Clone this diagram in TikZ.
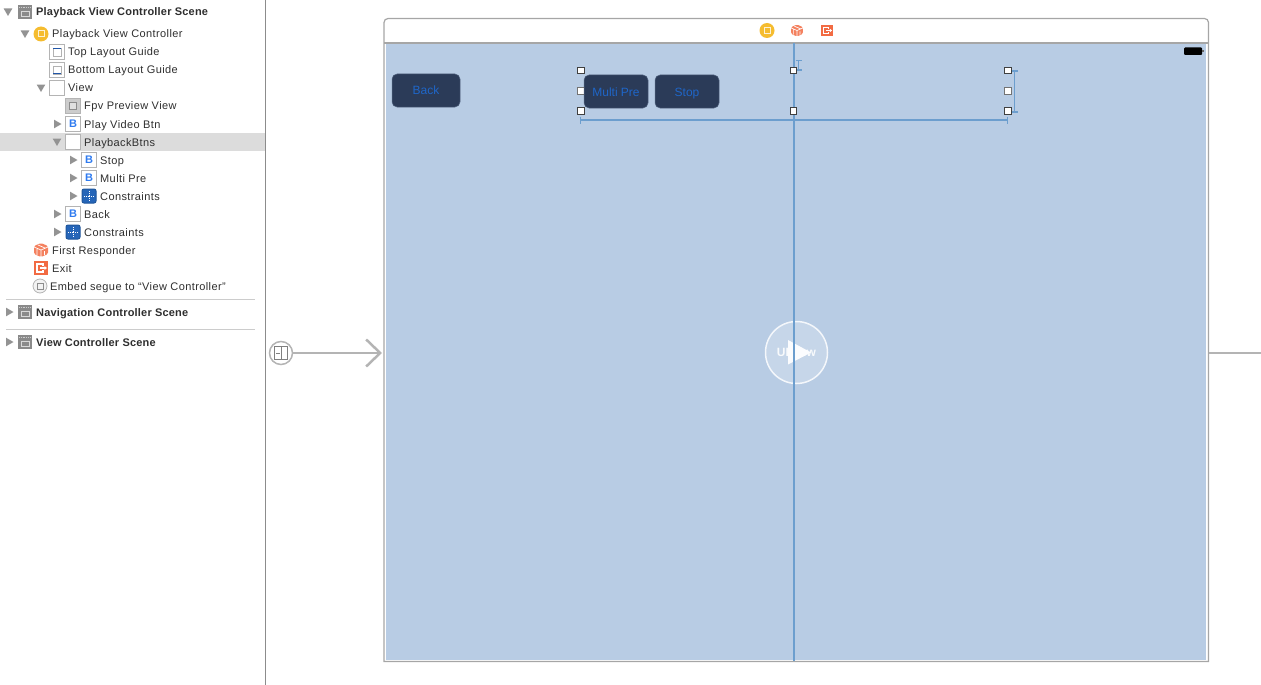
\documentclass[tikz,border=0pt]{standalone}
\usepackage{fontspec}
\setmainfont{Liberation Sans}
\newfontfamily\treeFont[LetterSpace=3.6]{Liberation Sans}
\newfontfamily\sceneFont[LetterSpace=1.8]{Liberation Sans Bold}
\usetikzlibrary{arrows.meta,shapes.geometric}
\definecolor{treeText}{HTML}{2E2E2E}
\definecolor{iconGrey}{HTML}{B4B4B4}
\definecolor{sceneGrey}{HTML}{8A8A8A}
\definecolor{rowGrey}{HTML}{DCDCDC}
\definecolor{canvasBlue}{HTML}{B8CCE4}
\definecolor{guideBlue}{HTML}{6C9ECE}
\definecolor{btnNavy}{HTML}{2B3B58}
\definecolor{btnText}{HTML}{1F66C8}
\definecolor{iconBlue}{HTML}{2F7BF0}
\definecolor{consBlue}{HTML}{2565B8}
\definecolor{exitOrange}{HTML}{F26B43}
\definecolor{vcYellow}{HTML}{F5BC2F}
\tikzset{%
  % Specifications for style of nodes:
       rowText/.style = {anchor=base west, inner sep=0pt, text=treeText, font=\fontsize{11}{13}\treeFont},
     sceneText/.style = {rowText, font=\fontsize{11}{13}\sceneFont},
       boxIcon/.style = {rectangle, draw=iconGrey, line width=1.3pt, fill=white, minimum size=15pt, inner sep=0pt},
       btnIcon/.style = {boxIcon, text=iconBlue, font=\fontsize{11}{11}\selectfont\bfseries},
      consIcon/.style = {rectangle, rounded corners=2pt, draw=consBlue!85!black, line width=1pt, fill=consBlue, minimum size=14pt, inner sep=0pt},
       openTri/.style = {regular polygon, regular polygon sides=3, shape border rotate=180, fill=gray!85, minimum size=10pt, inner sep=0pt, yshift=1pt},
     closedTri/.style = {regular polygon, regular polygon sides=3, shape border rotate=-90, fill=gray!85, minimum size=10pt, inner sep=0pt, xshift=0.5pt},
       uiButton/.style = {rectangle, rounded corners=5pt, draw=btnNavy!70!canvasBlue, line width=0.5pt, fill=btnNavy,
                          minimum width=64pt, minimum height=33pt, text=btnText, inner sep=0pt,
                          text height=9pt, text depth=0pt, font=\fontsize{12}{14}\selectfont},
        handle/.style = {rectangle, draw=black!75, line width=1pt, fill=white, minimum size=6.5pt, inner sep=0pt},
     guideLine/.style = {draw=guideBlue, line width=1.5pt},
     segueLine/.style = {draw=iconGrey, line width=2.5pt},
  sceneIcon/.pic = {
    \fill[sceneGrey] (-7,-7) rectangle (7,7);
    \draw[white!80!black, line width=0.8pt, densely dotted] (-6,-5) -- (6,-5);
    \draw[white!85!black, line width=0.9pt] (-4,-1) rectangle (4,4);
  },
  cubeIcon/.pic = {
    \fill[exitOrange!85!white, rounded corners=1.5pt] (-7,-4) -- (0,-7) -- (7,-4) -- (7,4) -- (0,7) -- (-7,4) -- cycle;
    \draw[white, line width=0.7pt] (-7,-3) -- (0,0) -- (7,-3) (0,0) -- (0,7) (-3,-5) -- (4,-2) (-4,-1) -- (-4,5) (3.5,1) -- (3.5,5);
  },
  exitIcon/.pic = {
    \fill[exitOrange] (-7,-7) rectangle (7,7);
    \draw[white, line width=1.1pt] (2,-2) -- (2,-4) -- (-4,-4) -- (-4,4) -- (2,4) -- (2,2);
    \draw[white, line width=1.1pt] (-1,0) -- (4,0);
    \fill[white] (3.5,-2) -- (6,0) -- (3.5,2) -- cycle;
  },
  coinIcon/.pic = {
    \fill[vcYellow] (0,0) circle (7.5);
    \draw[white!80!vcYellow, line width=1pt] (-3,-3) rectangle (3,3);
  },
}

\begin{document}
\begin{tikzpicture}[x=1pt, y=-1pt]
  \useasboundingbox (0,0) rectangle (1261,685);

  % Outline on the left
  \fill[rowGrey] (0,133) rectangle (265,151);
  \draw[black!45, line width=0.8pt] (265.5,0) -- (265.5,685);
  \draw[black!20, line width=0.8pt] (6,299.5) -- (255,299.5) (6,329.5) -- (255,329.5);

  \node (sceneTri)  [openTri]   at (8,12)  {};
  \node (vcTri)     [openTri]   at (25,34) {};
  \node (viewTri)   [openTri]   at (41,88) {};
  \node (playTri)   [closedTri] at (56,124) {};
  \node (btnsTri)   [openTri]   at (57,142) {};
  \node (stopTri)   [closedTri] at (72,160) {};
  \node (multiTri)  [closedTri] at (72,178) {};
  \node (consTri)   [closedTri] at (72,196) {};
  \node (backTri)   [closedTri] at (56,214) {};
  \node (cons2Tri)  [closedTri] at (56,232) {};
  \node (navTri)    [closedTri] at (8,312) {};
  \node (otherTri)  [closedTri] at (8,342) {};

  \pic at (25,12) {sceneIcon};
  \pic at (25,312) {sceneIcon};
  \pic at (25,342) {sceneIcon};
  \pic at (41,34) {coinIcon};
  \node (topIcon)    [boxIcon] at (57,52) {};
  \draw[black!30, line width=0.7pt] (53,48) rectangle (61,56);
  \draw[iconBlue!70!black, line width=1pt] (53,48.5) -- (61,48.5);
  \node (bottomIcon) [boxIcon] at (57,70) {};
  \draw[black!30, line width=0.7pt] (53,66) rectangle (61,74);
  \draw[iconBlue!70!black, line width=1pt] (53,73.5) -- (61,73.5);
  \node (viewIcon)   [boxIcon] at (57,88) {};
  \node (fpvIcon)    [boxIcon, fill=black!20] at (73,106) {};
  \node (fpvInner)   [boxIcon, minimum size=7pt, line width=0.8pt, draw=black!45, fill=black!12] at (73,106) {};
  \node (playIcon)   [btnIcon] at (73,124) {B};
  \node (btnsIcon)   [boxIcon] at (73,142) {};
  \node (stopIcon)   [btnIcon] at (89,160) {B};
  \node (multiIcon)  [btnIcon] at (89,178) {B};
  \node (consIconA)  [consIcon] at (89,196) {};
  \draw[white, line width=0.8pt, densely dotted] (84,196) -- (94,196) (89,191) -- (89,201);
  \node (backIcon)   [btnIcon] at (73,214) {B};
  \node (consIconB)  [consIcon] at (73,232) {};
  \draw[white, line width=0.8pt, densely dotted] (68,232) -- (78,232) (73,227) -- (73,237);
  \pic at (41,250) {cubeIcon};
  \pic at (41,268) {exitIcon};
  \node (embedIcon)  [circle, draw=iconGrey, line width=0.8pt, fill=black!5, minimum size=14pt, inner sep=0pt] at (40,286) {};
  \node (embedInner) [rectangle, draw=black!45, line width=0.7pt, minimum size=6pt, inner sep=0pt] at (40,286) {};

  % Texts of the rows
  \node (sceneLabel) [sceneText] at (36,16)  {Playback View Controller Scene};
  \node (vcLabel)    [rowText]   at (52,38)  {Playback View Controller};
  \node (topLabel)   [rowText]   at (68,56)  {Top Layout Guide};
  \node (bottomLabel)[rowText]   at (68,74)  {Bottom Layout Guide};
  \node (viewLabel)  [rowText]   at (68,92)  {View};
  \node (fpvLabel)   [rowText]   at (84,110) {Fpv Preview View};
  \node (playLabel)  [rowText]   at (84,128) {Play Video Btn};
  \node (btnsLabel)  [rowText]   at (84,146) {PlaybackBtns};
  \node (stopLabel)  [rowText]   at (100,164) {Stop};
  \node (multiLabel) [rowText]   at (100,182) {Multi Pre};
  \node (consLabelA) [rowText]   at (100,200) {Constraints};
  \node (backLabel)  [rowText]   at (84,218) {Back};
  \node (consLabelB) [rowText]   at (84,236) {Constraints};
  \node (firstLabel) [rowText]   at (52,254) {First Responder};
  \node (exitLabel)  [rowText]   at (52,272) {Exit};
  \node (embedLabel) [rowText]   at (50,290) {Embed segue to “View Controller”};
  \node (navLabel)   [sceneText] at (36,316) {Navigation Controller Scene};
  \node (otherLabel) [sceneText] at (36,346) {View Controller Scene};

  % Canvas
  \draw[black!35, line width=1.2pt, fill=white] (384,661.5) [rounded corners=4pt] -- (384,18.5) -- (1208.5,18.5) [sharp corners] -- (1208.5,661.5) -- cycle;
  \draw[black!35, line width=1.2pt] (384,43) -- (1208.5,43);
  \fill[canvasBlue] (386,44) rectangle (1206,659.5);
  \pic at (767,30.5) {coinIcon};
  \pic[scale=0.85] at (797,30.5) {cubeIcon};
  \pic[scale=0.85] at (827,30.5) {exitIcon};
  \fill[black, rounded corners=1pt] (1184,47.5) rectangle (1202,55);
  \fill[black!60] (1202,50) rectangle (1203.5,52.5);

  % Play button
  \node (playCircle) [circle, draw=white!85!canvasBlue, line width=1.5pt, fill=white, fill opacity=0.2, draw opacity=1, minimum size=62pt, inner sep=0pt] at (796.5,352.5) {};
  \node (playText)   [text=white!90!canvasBlue, inner sep=0pt, font=\fontsize{12}{14}\selectfont\bfseries] at (796.5,352.5) {UIView};
  \fill[white!95!canvasBlue] (788,340) -- (811,352.5) -- (788,364.5) -- cycle;

  % Guides
  \coordinate (vTop)    at (794,43.5);
  \coordinate (vBottom) at (794,661);
  \coordinate (hLeft)   at (581,120);
  \coordinate (hRight)  at (1008,120);
  \draw[guideLine] (vTop) -- (vBottom);
  \draw[guideLine] (hLeft) -- (hRight);
  \draw[guideLine, line width=1pt] (580.5,116.5) -- (580.5,123.5) (1007.5,116.5) -- (1007.5,123.5);
  \draw[guideLine, line width=1.2pt] (795.5,60.5) -- (802,60.5) (798.5,60.5) -- (798.5,70) (795.5,70) -- (802,70);
  \draw[guideLine, line width=1.2pt] (1011,71) -- (1018,71) (1014.5,71) -- (1014.5,112) (1011,112) -- (1018,112);

  % Handles
  \node (hndA) [handle] at (581,70.5) {};
  \node (hndB) [handle, draw=black!55] at (581,91) {};
  \node (hndC) [handle] at (581,111) {};
  \node (hndD) [handle] at (793.5,70.5) {};
  \node (hndE) [handle] at (793.5,111) {};
  \node (hndF) [handle] at (1008,70.5) {};
  \node (hndG) [handle, draw=black!55] at (1008,91) {};
  \node (hndH) [handle] at (1008,111) {};

  % Buttons
  \node (backBtn)  [uiButton, minimum width=68pt] at (426,90.5) {Back};
  \node (multiBtn) [uiButton] at (616,91.5) {Multi Pre};
  \node (stopBtn)  [uiButton] at (687,91.5) {Stop};

  % Segues
  \node (segueIn) [circle, draw=iconGrey, line width=1.5pt, fill=white, minimum size=23pt, inner sep=0pt] at (281,353) {};
  \node (segueBox) [rectangle, draw=black!50, line width=0.8pt, minimum size=13pt, inner sep=0pt] at (281,353) {};
  \draw[black!50, line width=0.8pt] (281,346.5) -- (281,359.5) (276,353) -- (280,353);
  \coordinate (canvasIn) at (382,353);
  \coordinate (canvasOut) at (1209,353);
  \coordinate (pageEnd) at (1261,353);
  \draw[segueLine, -{Straight Barb[length=14pt, width=27pt, line width=2.5pt]}] (segueIn) -- (canvasIn);
  \draw[segueLine] (canvasOut) -- (pageEnd);
\end{tikzpicture}
\end{document}
